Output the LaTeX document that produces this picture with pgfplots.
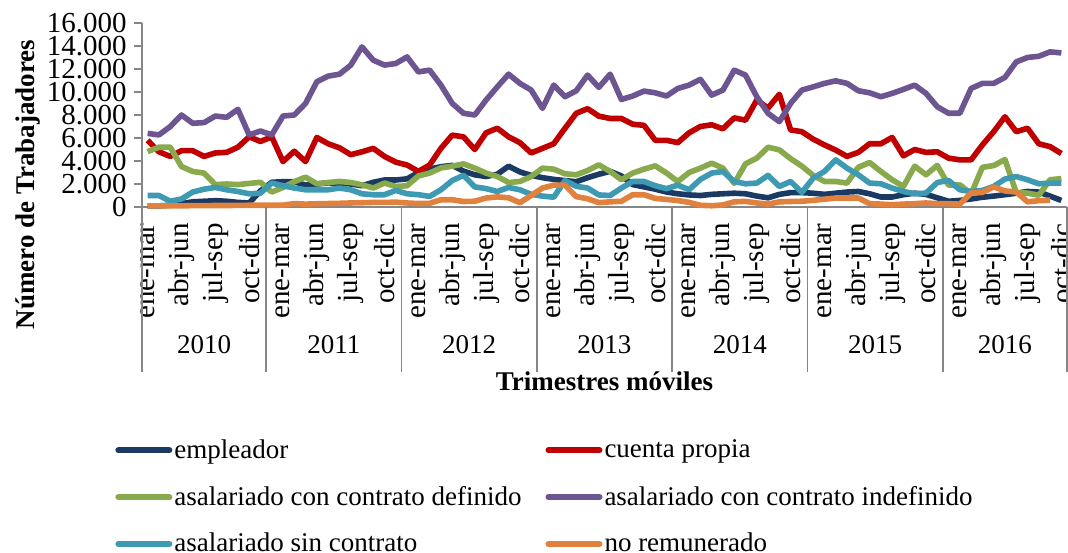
\documentclass[border=0pt]{standalone}
\usepackage{pgfplots}
\pgfplotsset{compat=1.18}
\usepackage{pgfplotstable}
\usepackage{fontspec}
\setmainfont{Liberation Serif}

\definecolor{cemp}{HTML}{1B3A63}
\definecolor{ccp}{HTML}{C00000}
\definecolor{cdef}{HTML}{88A94C}
\definecolor{cindef}{HTML}{6C5591}
\definecolor{csin}{HTML}{3E9AB2}
\definecolor{cnorem}{HTML}{E0823D}
\definecolor{caxis}{HTML}{868686}
\newcommand\chartfont{\fontsize{13.5}{16}\selectfont}
\newcommand\tickfont{\fontsize{14.5}{17}\selectfont}

% moving quarters: 2010 and 2016 have 11 each, the other years 12
\pgfplotstableread{
i  emp   cp    def   indef  sin   norem
0  100   5800  4820  6400   1000  100
1  100   4800  5200  6270   1000  100
2  150   4400  5200  6990   500   100
3  300   4900  3520  8000   700   100
4  450   4900  3090  7280   1300  120
5  500   4400  2950  7340   1550  120
6  550   4700  1950  7910   1700  130
7  500   4750  2000  7800   1500  130
8  400   5200  1950  8490   1350  140
9  350   6100  2050  6270   1150  150
10 1400  5700  2150  6610   1200  150
11 2150  6100  1300  6270   2080  150
12 2200  3950  1700  7910   1850  160
13 2200  4850  2200  8000   1650  300
14 1900  3950  2600  9010   1500  250
15 2000  6050  2020  10890  1500  280
16 2100  5500  2130  11380  1500  300
17 2050  5150  2220  11550  1650  320
18 2000  4550  2130  12330  1500  350
19 1850  4800  1930  13920  1150  370
20 2150  5100  1650  12770  1070  400
21 2350  4400  2080  12340  1070  400
22 2350  3900  1790  12480  1440  420
23 2450  3650  1850  13050  1150  350
24 3000  3100  2700  11750  1070  300
25 3300  3650  2950  11900  920   320
26 3500  5100  3400  10600  1500  630
27 3620  6250  3550  9010   2300  630
28 3120  6100  3750  8150   2750  480
29 2800  5000  3380  8000   1750  500
30 2650  6450  2950  9300   1600  780
31 2850  6850  2650  10450  1350  880
32 3550  6100  2130  11550  1700  800
33 3050  5600  2220  10750  1500  380
34 2750  4700  2650  10170  1100  1000
35 2550  5100  3380  8580   950   1650
36 2400  5500  3290  10600  850   1900
37 2300  6850  2890  9590   2300  1900
38 2200  8150  2800  10110  1800  900
39 2550  8550  3170  11470  1650  720
40 2850  7900  3670  10400  1050  380
41 3100  7700  3090  11550  1000  450
42 2700  7700  2370  9350   1650  500
43 1950  7200  2950  9650   2220  1070
44 1750  7100  3290  10080  2220  1070
45 1550  5800  3580  9930   1850  750
46 1300  5800  2950  9650   1600  660
47 1150  5600  2220  10310  1900  560
48 1050  6450  3000  10600  1500  400
49 1000  7000  3380  11100  2400  150
50 1100  7150  3810  9730   2950  110
51 1150  6800  3380  10170  3090  180
52 1200  7750  2050  11900  2220  450
53 1150  7550  3750  11470  2020  490
54 950   9300  4250  9590   2080  350
55 800   8600  5200  8150   2750  250
56 1100  9800  4970  7420   1790  450
57 1250  6700  4200  9010   2220  480
58 1250  6550  3550  10170  1270  500
59 1200  5900  2750  10450  2510  580
60 1100  5400  2220  10750  3090  680
61 1200  4950  2220  10970  4100  780
62 1300  4400  2080  10750  3380  780
63 1350  4750  3450  10110  2800  780
64 1150  5500  3870  9930   2080  300
65 870   5500  3090  9590   2020  250
66 870   6050  2370  9880   1650  200
67 1070  4450  1790  10230  1350  250
68 1200  5000  3550  10600  1150  290
69 1100  4750  2800  9880   1210  350
70 800   4800  3620  8720   2130  290
71 500   4250  1900  8150   2310  290
72 570   4100  1930  8150   1500  250
73 700   4100  1150  10310  1350  1210
74 850   5400  3450  10750  1440  1270
75 950   6550  3600  10750  1790  1750
76 1070  7850  4130  11270  2430  1400
77 1200  6550  1250  12620  2650  1300
78 1350  6850  1210  13000  2370  450
79 1300  5500  1020  13110  2020  550
80 950   5250  2370  13490  2080  600
81 570   4650  2470  13400  2080  nan
}\datatable

\begin{document}
\begin{tikzpicture}
\useasboundingbox (-71pt,-172.5pt) rectangle (463pt,103.5pt);
\begin{axis}[
  at={(0,0)}, anchor=south west,
  scale only axis, width=462.5pt, height=92pt,
  xmin=-0.5, xmax=81.5, ymin=0, ymax=16000,
  axis x line=bottom, axis y line=left,
  axis line style={-, draw=caxis, line width=0.8pt},
  xtick={0,3,...,81},
  xticklabels={ene-mar,abr-jun,jul-sep,oct-dic,ene-mar,abr-jun,jul-sep,oct-dic,
    ene-mar,abr-jun,jul-sep,oct-dic,ene-mar,abr-jun,jul-sep,oct-dic,
    ene-mar,abr-jun,jul-sep,oct-dic,ene-mar,abr-jun,jul-sep,oct-dic,
    ene-mar,abr-jun,jul-sep,oct-dic},
  xtick style={draw=none},
  % shift first, then rotate, so the label moves straight down
  x tick label style={yshift=-4pt, rotate=90, anchor=east, inner sep=0pt},
  ytick={0,2000,...,16000},
  tick align=outside, major tick length=4pt,
  ytick style={draw=caxis, line width=0.8pt},
  scaled y ticks=false,
  y tick label style={inner sep=0.5pt, xshift=-3pt,
    /pgf/number format/.cd, fixed, 1000 sep={.}, assume math mode=true},
  every tick label/.append style={font=\tickfont, text=black},
  xlabel={Trimestres móviles},
  xlabel style={at={(axis description cs:0.5,-0.9457)}, anchor=center, font=\chartfont\bfseries},
  ylabel={Número de Trabajadores},
  ylabel style={at={(axis description cs:-0.1232,0.1223)}, anchor=center, font=\chartfont\bfseries},
  every axis plot/.append style={line width=2.8pt, line join=round, mark=none},
  legend columns=2,
  legend cell align=left,
  legend image code/.code={\draw[#1, line width=3pt, line cap=round] (1.5pt,0pt) -- (27pt,0pt);},
  legend style={at={(axis description cs:-0.0292,-1.25)}, anchor=north west,
    draw=none, fill=none, inner sep=0pt, font=\chartfont,
    nodes={inner sep=1pt}, row sep=10.5pt,
    /tikz/every even column/.append style={column sep=11pt}},
  clip=false,
]
\addplot[cemp] table[x=i, y=emp] {\datatable};
\addlegendentry{empleador}
\addplot[ccp] table[x=i, y=cp] {\datatable};
\addlegendentry{cuenta propia}
\addplot[cdef] table[x=i, y=def] {\datatable};
\addlegendentry{asalariado con contrato definido}
\addplot[cindef] table[x=i, y=indef] {\datatable};
\addlegendentry{asalariado con contrato indefinido}
\addplot[csin] table[x=i, y=sin] {\datatable};
\addlegendentry{asalariado sin contrato}
\addplot[cnorem] table[x=i, y=norem] {\datatable};
\addlegendentry{no remunerado}

% year groups of the category axis
\pgfplotsinvokeforeach{-0.5,10.5,22.5,34.5,46.5,58.5,70.5,81.5}{
  \draw[caxis, line width=0.8pt] (axis cs:#1,0) -- ++(0pt,-82.5pt);
}
\node[font=\chartfont, yshift=-69pt] at (axis cs:5,0) {2010};
\node[font=\chartfont, yshift=-69pt] at (axis cs:16.5,0) {2011};
\node[font=\chartfont, yshift=-69pt] at (axis cs:28.5,0) {2012};
\node[font=\chartfont, yshift=-69pt] at (axis cs:40.5,0) {2013};
\node[font=\chartfont, yshift=-69pt] at (axis cs:52.5,0) {2014};
\node[font=\chartfont, yshift=-69pt] at (axis cs:64.5,0) {2015};
\node[font=\chartfont, yshift=-69pt] at (axis cs:76,0) {2016};
\end{axis}
\end{tikzpicture}
\end{document}
